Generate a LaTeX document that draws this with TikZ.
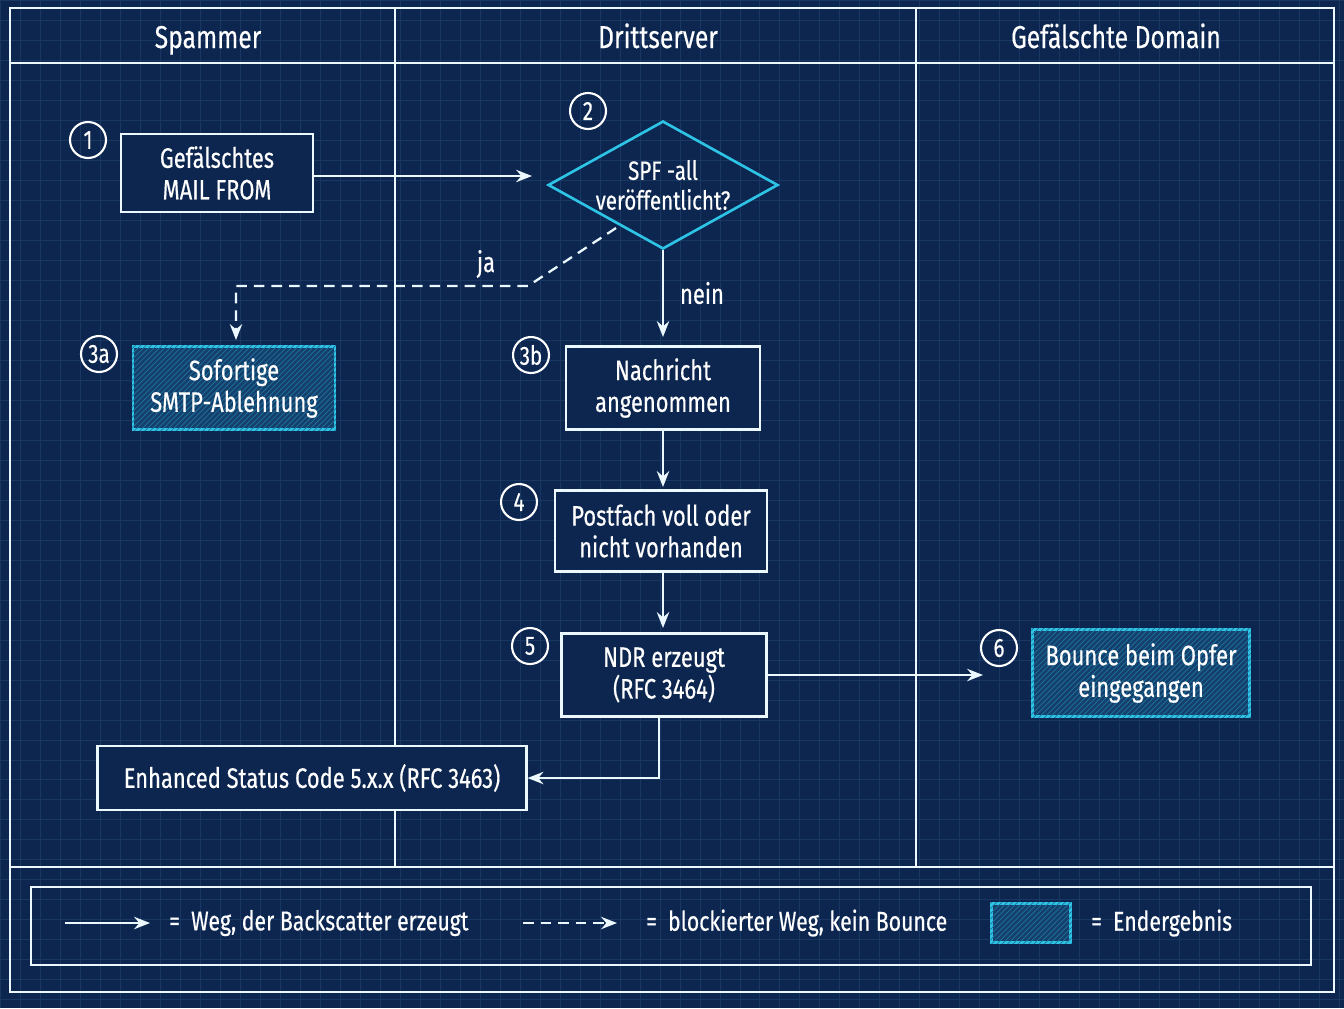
\documentclass[tikz,border=0pt]{standalone}
\usepackage{fontspec}
\setmainfont{Fira Sans}[FakeStretch=0.78,FakeBold=0.4]
\usetikzlibrary{shapes.geometric,patterns,arrows.meta}
\definecolor{bg}{HTML}{0C2650}
\definecolor{gridc}{HTML}{183763}
\definecolor{cyanb}{HTML}{2EC4E6}
\definecolor{hfill}{HTML}{15406E}
\begin{document}
\begin{tikzpicture}[x=0.02cm,y=-0.02cm,
  line/.style={draw=white!92!cyan,line width=1.3pt},
  box/.style={line,rectangle,fill=bg,text=white,align=center,font=\fontsize{16}{18}\selectfont},
  res/.style={draw=cyanb,line width=1.3pt,fill=hfill,text=white,align=center,font=\fontsize{16}{18}\selectfont},
  hatch/.style={pattern=north east lines,pattern color=cyanb!50!bg},
  num/.style={circle,draw=white,line width=1.2pt,minimum size=0.72cm,inner sep=0pt,text=white,font=\fontsize{15}{18}\selectfont},
  arr/.style={line,-{Stealth[length=9pt,width=7pt]}},
  darr/.style={arr,dash pattern=on 6pt off 4pt},
  lab/.style={text=white,font=\fontsize{16}{20}\selectfont},
  head/.style={text=white,anchor=base,font=\fontsize{18}{22}\selectfont}]
\fill[bg] (0,0) rectangle (1344,1008);
\useasboundingbox (0,0) rectangle (1344,1008);
\draw[gridc,line width=0.4pt] (0,0) grid[step=0.4cm] (1344,1008);
% frame and lanes
\draw[line,line width=1pt] (10,8) rectangle (1334,992);
\draw[line,line width=1pt] (10,63) -- (1334,63);
\draw[line,line width=1pt] (10,867) -- (1334,867);
\draw[line,line width=1pt] (395,8) -- (395,867);
\draw[line,line width=1pt] (916,8) -- (916,867);
\node[head] (h1) at (208,48) {Spammer};
\node[head] (h2) at (658,48) {Drittserver};
\node[head] (h3) at (1116,48) {Gefälschte Domain};
% nodes
\node[num] (c1) at (88,140) {1};
\node[box,minimum width=3.84cm,minimum height=1.56cm] (b1) at (217,173) {Gefälschtes\\MAIL FROM};
\node[num] (c2) at (588,111) {2};
\node[diamond,draw=cyanb,line width=1.5pt,minimum width=4.6cm,minimum height=2.56cm,inner sep=0pt] (d) at (663,185) {};
\node[text=white,align=center,font=\fontsize{15}{17}\selectfont] (dt) at (d) {SPF -all\\veröffentlicht?};
\node[num] (c3a) at (99,354) {3a};
\node[res,minimum width=4.04cm,minimum height=1.66cm] (b3a) at (234,388) {};
\fill[hatch] (b3a.south west) rectangle (b3a.north east);
\node[text=white,align=center,font=\fontsize{16}{18}\selectfont] (t3a) at (b3a) {Sofortige\\SMTP-Ablehnung};
\node[num] (c3b) at (531,355) {3b};
\node[box,minimum width=3.88cm,minimum height=1.66cm] (b3b) at (663,388) {Nachricht\\angenommen};
\node[num] (c4) at (519,502) {4};
\node[box,minimum width=4.24cm,minimum height=1.62cm] (b4) at (661,531) {Postfach voll oder\\nicht vorhanden};
\node[num] (c5) at (530,646) {5};
\node[box,minimum width=4.1cm,minimum height=1.66cm] (b5) at (664,675) {NDR erzeugt\\(RFC 3464)};
\node[num] (c6) at (999,648) {6};
\node[res,minimum width=4.34cm,minimum height=1.74cm] (b6) at (1141,673) {};
\fill[hatch] (b6.south west) rectangle (b6.north east);
\node[text=white,align=center,font=\fontsize{16}{18}\selectfont] (t6) at (b6) {Bounce beim Opfer\\eingegangen};
\node[box,minimum width=8.58cm,minimum height=1.28cm] (b7) at (312,778) {Enhanced Status Code 5.x.x (RFC 3463)};
% connectors
\coordinate (a1) at (532,176);
\draw[arr] (b1.east |- a1) -- (a1);
\coordinate (dj) at (616,228);
\coordinate (dk) at (528,286);
\coordinate (dm) at (236,286);
\draw[darr] (dj) -- (dk) -- (dm) -- (236,340);
\node[lab] (ja) at (486,264) {ja};
\draw[arr] (d.south) -- (663,337);
\node[lab] (nein) at (702,293) {nein};
\draw[arr] (b3b.south) -- (663,487);
\draw[arr] (663,572) -- (663,628);
\coordinate (e6) at (983,675);
\draw[arr] (b5.east) -- (e6);
\coordinate (k) at (659,778);
\draw[arr] (659,716) -- (k) -- (b7.east);
% legend
\draw[line,line width=1pt] (31,887) rectangle (1311,965);
\coordinate (l1a) at (65,923); \coordinate (l1b) at (150,923);
\draw[arr] (l1a) -- (l1b);
\node[lab,anchor=west,font=\fontsize{15.5}{20}\selectfont] (t1) at (163,923) {= \ Weg, der Backscatter erzeugt};
\coordinate (l2a) at (523,923); \coordinate (l2b) at (617,923);
\draw[darr] (l2a) -- (l2b);
\node[lab,anchor=west,font=\fontsize{15.5}{20}\selectfont] (t2) at (640,923) {= \ blockierter Weg, kein Bounce};
\node[res,minimum width=1.58cm,minimum height=0.78cm] (lg) at (1031,923) {};
\fill[hatch] (lg.south west) rectangle (lg.north east);
\node[lab,anchor=west,font=\fontsize{15.5}{20}\selectfont] (t3) at (1085,923) {= \ Endergebnis};
\end{tikzpicture}
\end{document}
